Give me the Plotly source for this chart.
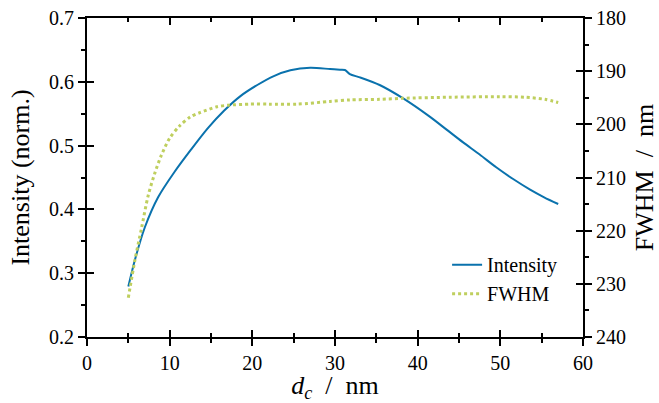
import plotly.graph_objects as go

# Data
int_x = [5.0, 5.8, 7.0, 8.6, 10.6, 12.6, 14.6, 16.6, 18.6, 20.6, 22.6, 24.6, 27.0, 29.4, 30.6, 31.2,
         31.8, 33.0, 35.4, 38.25, 41.5, 43.5, 45.5, 47.5, 49.5, 51.5, 53.6, 55.3, 57.0]
int_y = [0.279, 0.321, 0.372, 0.419, 0.459, 0.494, 0.527, 0.555, 0.578, 0.595, 0.609, 0.618, 0.622, 0.620, 0.619, 0.6185,
         0.612, 0.607, 0.595, 0.574, 0.545, 0.525, 0.505, 0.486, 0.466, 0.448, 0.431, 0.419, 0.4085]

fw_x = [5.0, 5.8, 6.6, 7.4, 8.2, 9.0, 10.0, 11.2, 12.5, 13.66, 15.7, 17.1, 19.7, 22.0, 25.4, 29.4, 31.8, 35.4,
        38.25, 43.9, 49.9, 53.0, 55.4, 57.0]
fw_y = [232.6, 225.5, 219.5, 213.4, 209.2, 205.8, 202.6, 200.3, 198.6, 197.8, 196.7, 196.4, 196.2, 196.2, 196.2, 195.7, 195.4, 195.3,
        195.1, 194.9, 194.8, 194.9, 195.3, 195.9]

x_ticks = [0, 10, 20, 30, 40, 50, 60]
y1_ticks = [0.2, 0.3, 0.4, 0.5, 0.6, 0.7]
y2_ticks = [180, 190, 200, 210, 220, 230, 240]

BLUE = "#0a72ad"
GREEN = "#bfcf5e"
FONT = "Liberation Serif"

fig = go.Figure()
fig.add_trace(go.Scatter(x=int_x, y=int_y, mode="lines", name="Intensity",
                         line=dict(color=BLUE, width=2, shape="spline", smoothing=0.8)))
fig.add_trace(go.Scatter(x=fw_x, y=fw_y, mode="lines", name="FWHM", yaxis="y2",
                         line=dict(color=GREEN, width=3, dash="dot", shape="spline", smoothing=0.8)))

tickfont = dict(family=FONT, size=20, color="black")
titlefont = dict(family=FONT, size=26, color="black")
common = dict(showgrid=False, zeroline=False, showline=True, linecolor="black", linewidth=2,
              tickcolor="black", tickwidth=2, automargin=False)

fig.update_layout(
    width=659, height=403,
    margin=dict(l=87, r=76, t=18, b=66, autoexpand=False),
    plot_bgcolor="white", paper_bgcolor="white",
    font=dict(family=FONT, size=20, color="black"),
    showlegend=True,
    legend=dict(x=0.726, y=0.288, xanchor="left", yanchor="top", bgcolor="rgba(0,0,0,0)",
                font=dict(family=FONT, size=20), tracegroupgap=0),
    # main axes: inner halves of the major ticks (x mirrored to the top)
    xaxis=dict(range=[0, 60], tickvals=x_ticks, ticktext=[str(v) for v in x_ticks],
               ticks="inside", ticklen=7, mirror="ticks", tickfont=tickfont, ticklabelstandoff=7,
               minor=dict(dtick=5, ticks="inside", ticklen=4, tickwidth=2, tickcolor="black"),
               title=dict(text="<i>d</i><sub><i>c</i></sub>&nbsp;&nbsp;/&nbsp;&nbsp;nm", font=titlefont, standoff=5),
               **common),
    yaxis=dict(range=[0.2, 0.7], tickvals=y1_ticks, ticktext=["%.1f" % v for v in y1_ticks],
               ticks="inside", ticklen=7, tickfont=tickfont, ticklabelstandoff=7,
               minor=dict(dtick=0.05, ticks="outside", ticklen=4, tickwidth=2, tickcolor="black"),
               title=dict(text="Intensity (norm.)", font=titlefont, standoff=12),
               **common),
    yaxis2=dict(range=[240, 180], overlaying="y", side="right", anchor="x",
                tickvals=y2_ticks, ticktext=[str(v) for v in y2_ticks],
                ticks="inside", ticklen=7, tickfont=tickfont, ticklabelstandoff=7,
                minor=dict(dtick=5, ticks="outside", ticklen=4, tickwidth=2, tickcolor="black"),
                title=dict(text="FWHM&nbsp;&nbsp;/&nbsp;&nbsp;nm", font=titlefont, standoff=11),
                **common),
    # helper overlay axes: outer halves of the crossing major ticks
    xaxis2=dict(range=[0, 60], overlaying="x", side="bottom", anchor="y", tickvals=x_ticks,
                ticks="outside", ticklen=7, showticklabels=False,
                minor=dict(dtick=5, ticks="outside", ticklen=4, tickwidth=2, tickcolor="black"),
                **common),
    yaxis3=dict(range=[0.2, 0.7], overlaying="y", side="left", anchor="x", tickvals=y1_ticks,
                ticks="outside", ticklen=7, showticklabels=False, **common),
    yaxis4=dict(range=[240, 180], overlaying="y", side="right", anchor="x", tickvals=y2_ticks,
                ticks="outside", ticklen=7, showticklabels=False, **common),
)

# invisible copies of the data on the helper axes so those axes get drawn
for xa, ya, xs, ys in [("x2", "y", int_x, int_y), ("x", "y3", int_x, int_y), ("x", "y4", fw_x, fw_y)]:
    fig.add_trace(go.Scatter(x=xs, y=ys, xaxis=xa, yaxis=ya, mode="lines", opacity=0,
                             line=dict(width=0.1, color="white"),
                             showlegend=False, hoverinfo="skip"))

fig.write_html("out.html")
